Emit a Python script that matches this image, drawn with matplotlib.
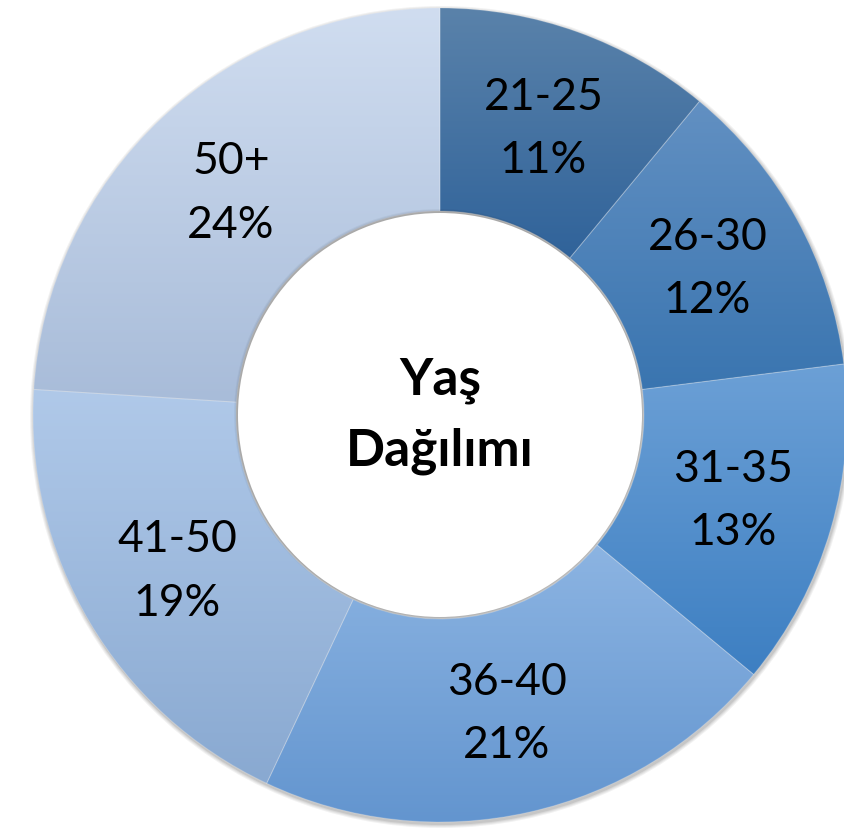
import numpy as np
import matplotlib
matplotlib.use('Agg')
import matplotlib.pyplot as plt
from matplotlib.patches import Wedge, Circle
from matplotlib.colors import LinearSegmentedColormap

plt.rcParams['font.family'] = ['Lato', 'DejaVu Sans']

# data
labels = ['21-25', '26-30', '31-35', '36-40', '41-50', '50+']
shares = [11, 12, 13, 21, 19, 24]
title = 'Yaş\nDağılımı'

# gradient per slice: (top colour, bottom colour)
slice_colors = [
    ('#5a82aa', '#30639a'),
    ('#6290c2', '#3a75b0'),
    ('#6ca0d6', '#3d7fc2'),
    ('#8cb4e2', '#6395cf'),
    ('#b0c9e9', '#89a9d1'),
    ('#d0ddf0', '#a8bcd9'),
]

W, H = 845, 829
cx, cy = 440, H - 416
r_out, r_in = 407, 204

fig = plt.figure(figsize=(W / 100, H / 100), dpi=100)
ax = fig.add_axes([0, 0, 1, 1])
ax.set_xlim(0, W)
ax.set_ylim(0, H)
ax.set_aspect('equal')
ax.axis('off')

# soft shadow around the ring
for k, a in enumerate([0.05, 0.05, 0.06, 0.08]):
    ax.add_patch(Circle((cx + 1, cy - 2), r_out + 4 - k, color='black', alpha=a, lw=0, zorder=1))

total = float(sum(shares))
start = 90.0
grad = np.linspace(0, 1, 256).reshape(-1, 1)
for lab, val, (c_top, c_bot) in zip(labels, shares, slice_colors):
    sweep = 360.0 * val / total
    t1, t2 = start - sweep, start
    w = Wedge((cx, cy), r_out, t1, t2, width=r_out - r_in, facecolor='none',
              edgecolor='none', zorder=3)
    ax.add_patch(w)
    # bounding box of the wedge in data coords
    angs = np.radians(np.linspace(t1, t2, 200))
    xs = np.concatenate([cx + r_out * np.cos(angs), cx + r_in * np.cos(angs)])
    ys = np.concatenate([cy + r_out * np.sin(angs), cy + r_in * np.sin(angs)])
    cmap = LinearSegmentedColormap.from_list(lab, [c_bot, c_top])
    im = ax.imshow(grad, cmap=cmap, origin='lower', aspect='auto',
                   extent=[xs.min(), xs.max(), ys.min(), ys.max()], zorder=2)
    im.set_clip_path(w)
    # thin light separator
    ax.add_patch(Wedge((cx, cy), r_out, t1, t2, width=r_out - r_in, facecolor='none',
                       edgecolor=(1, 1, 1, 0.18), lw=0.8, zorder=4))

    mid = np.radians((t1 + t2) / 2)
    rr = 0.75 * r_out
    ax.text(cx + rr * np.cos(mid), cy + rr * np.sin(mid), f'{lab}\n{val}%',
            ha='center', va='center', fontsize=32, color='black',
            linespacing=1.68, zorder=6)
    start = t1

# inner hole with a faint shadow
for k, a in enumerate([0.04, 0.05, 0.06]):
    ax.add_patch(Circle((cx - 1, cy + 1), r_in + 1 - k, color='black', alpha=a, lw=0, zorder=4.5))
ax.add_patch(Circle((cx, cy), r_in - 2, color='white', lw=0, zorder=5))

ax.text(cx, cy, title, ha='center', va='center', fontsize=37,
        fontweight='bold', color='black', linespacing=1.6, zorder=6)

fig.savefig('out.png', dpi=100)
